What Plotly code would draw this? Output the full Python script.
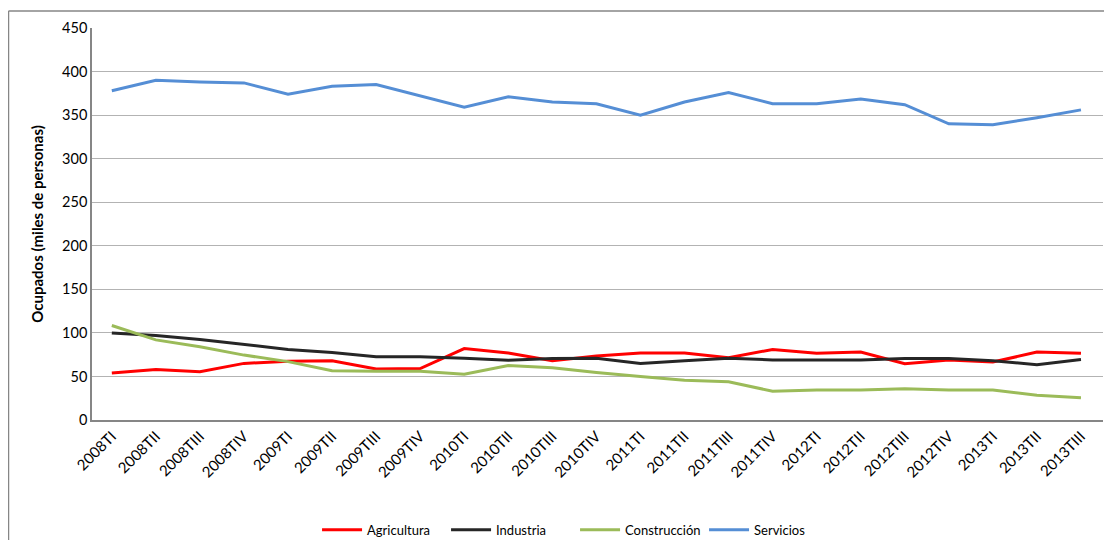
import plotly.graph_objects as go

categories = ["2008TI", "2008TII", "2008TIII", "2008TIV",
              "2009TI", "2009TII", "2009TIII", "2009TIV",
              "2010TI", "2010TII", "2010TIII", "2010TIV",
              "2011TI", "2011TII", "2011TIII", "2011TIV",
              "2012TI", "2012TII", "2012TIII", "2012TIV",
              "2013TI", "2013TII", "2013TIII"]

agricultura = [54, 58, 55.5, 65, 67.5, 68, 58.5, 59, 82, 77, 68,
               73.5, 77, 77, 71.5, 81, 76.5, 78, 64.5, 69, 66.5, 78, 76.5]
industria = [100, 97, 92.5, 86.5, 81, 77.5, 72.5, 72.5, 71, 68.5, 70.5,
             71, 65, 68, 71, 69, 69, 69, 70.5, 70.5, 68, 63.5, 69.5]
construccion = [108.5, 92, 84, 74.5, 67, 56.5, 56, 56, 52.5, 62.5, 60,
                54.5, 50, 45.5, 44, 33, 34.5, 34.5, 36, 34.5, 34.5, 28.5, 25.5]
servicios = [378, 390, 388, 387, 374, 383, 385, 372, 359, 371, 365,
             363, 350, 365, 376, 363, 363, 368.5, 362, 340, 339, 347, 356]

series = [("Agricultura", agricultura, "#FF0000"),
          ("Industria", industria, "#262626"),
          ("Construcción", construccion, "#9BBB59"),
          ("Servicios", servicios, "#558ED5")]

font_family = "Lato, 'Open Sans', sans-serif"

fig = go.Figure()
for name, vals, color in series:
    fig.add_trace(go.Scatter(x=categories, y=vals, mode="lines", name=name,
                             line=dict(color=color, width=3)))

# figure sized to fit inside the page's default 8px body margin
fig.update_layout(
    width=1096, height=532,
    margin=dict(l=84, r=1, t=20, b=120),
    paper_bgcolor="white", plot_bgcolor="white",
    font=dict(family=font_family, size=13, color="#000000"),
    showlegend=True,
    legend=dict(orientation="h", xref="paper", x=0.2226, xanchor="left",
                yref="container", y=0.019, yanchor="middle",
                font=dict(family=font_family, size=13, color="#000000"),
                itemwidth=40, entrywidth=74, entrywidthmode="pixels",
                tracegroupgap=0),
    xaxis=dict(type="category", showgrid=False, showline=True, linecolor="#868686",
               linewidth=1.5, ticks="", tickangle=-45, automargin=False,
               tickfont=dict(family=font_family, size=15, color="#000000"),
               range=[-0.45, len(categories) - 1 + 0.5]),
    yaxis=dict(range=[0, 450], dtick=50, showgrid=True, gridcolor="#B3B3B3",
               gridwidth=1, showline=True, linecolor="#868686", linewidth=1.5,
               ticks="", zeroline=False, automargin=False,
               tickfont=dict(family=font_family, size=14.5, color="#000000"),
               title=dict(text="<b>Ocupados (miles de personas)</b>",
                          font=dict(family=font_family, size=15, color="#000000"),
                          standoff=15)),
    shapes=[
        dict(type="line", xref="paper", yref="paper",
             x0=-83.5/1011, x1=1.01, y0=1 + 17/392, y1=1 + 17/392,
             line=dict(color="#868686", width=1.5)),
        dict(type="line", xref="paper", yref="paper",
             x0=-83.5/1011, x1=-83.5/1011, y0=1 + 17/392, y1=-0.34,
             line=dict(color="#868686", width=1.5)),
    ],
)

fig.write_html("out.html", config={"displayModeBar": False})
